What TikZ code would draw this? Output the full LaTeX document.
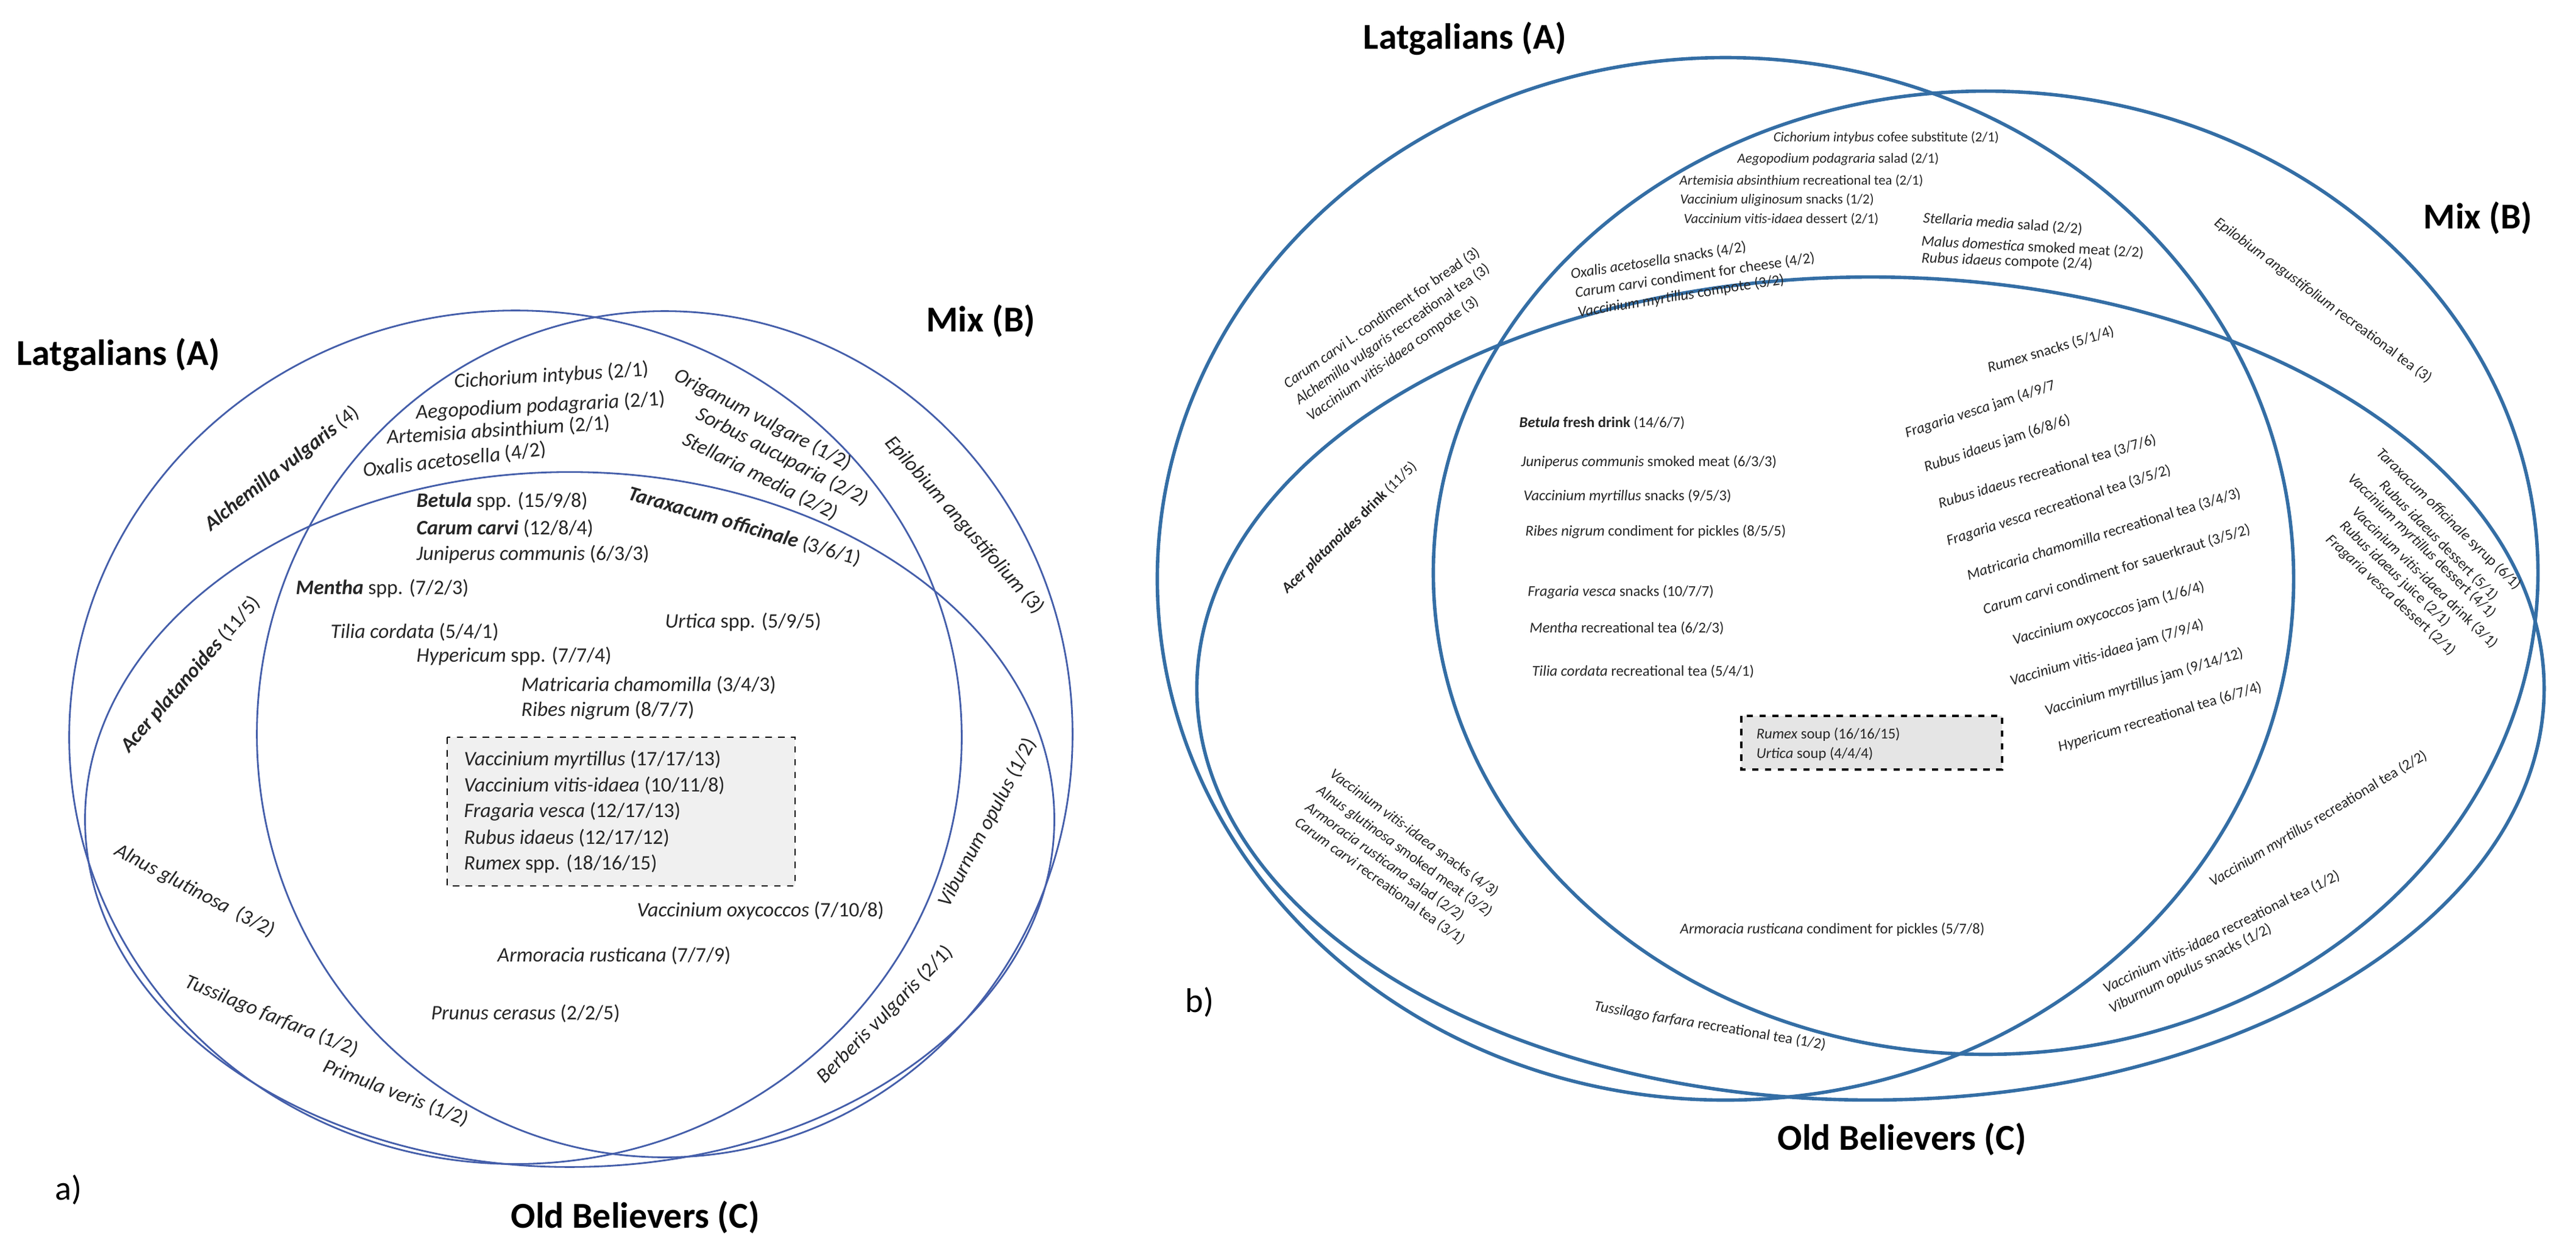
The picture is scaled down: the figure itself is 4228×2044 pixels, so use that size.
\documentclass[tikz,border=0pt]{standalone}
\usepackage{fontspec}
\setmainfont{Carlito}
\definecolor{lineA}{RGB}{68,94,170}
\definecolor{lineB}{RGB}{52,110,165}
\begin{document}
\begin{tikzpicture}[x=0.01cm,y=-0.01cm,
  ta/.style={inner sep=0pt,font=\fontsize{9.6}{11}\selectfont,text=black!85},
  tb/.style={inner sep=0pt,font=\fontsize{7}{8}\selectfont,text=black!85},
  tc/.style={inner sep=0pt,font=\fontsize{6.5}{7.5}\selectfont,text=black!85},
  ttl/.style={inner sep=0pt,font=\fontsize{17}{20}\selectfont\bfseries},
  ea/.style={draw=lineA,line width=0.8pt},
  eb/.style={draw=lineB,line width=1.6pt}]
\useasboundingbox (0,0) rectangle (4228,2044);
\fill[white] (0,0) rectangle (4228,2044);
% ---------------- panel a ----------------
\draw[ea] (846,1210) ellipse [x radius=7.32cm, y radius=7.0cm];
\draw[ea] (1091,1205) ellipse [x radius=6.69cm, y radius=6.94cm];
\draw[ea] (935,1345) ellipse [x radius=7.95cm, y radius=5.70cm];
\node[ttl,anchor=west] (aA) at (27,582) {Latgalians (A)};
\node[ttl,anchor=west] (aB) at (1520,527) {Mix (B)};
\node[ttl,anchor=west] (aC) at (838,1998) {Old Believers (C)};
\node[ttl,anchor=west,font=\fontsize{16}{18}\selectfont\mdseries] (alab) at (90,1953) {a)};
\node[ta,rotate=3.7] (a1) at (905,617) {\textit{Cichorium intybus} (2/1)};
\node[ta,rotate=3.1] (a2) at (887,667) {\textit{Aegopodium podagraria} (2/1)};
\node[ta,rotate=3.7] (a3) at (818,707) {\textit{Artemisia absinthium} (2/1)};
\node[ta,rotate=6.7] (a4) at (746,755) {\textit{Oxalis acetosella} (4/2)};
\node[ta,rotate=37.9] (a5) at (463,769) {\textbf{\textit{Alchemilla vulgaris}} (4)};
\node[ta,rotate=48.8] (a6) at (313,1107) {\textbf{\textit{Acer platanoides}} (11/5)};
\node[ta,anchor=west] (a7) at (683,823) {\textbf{\textit{Betula}} spp. (15/9/8)};
\node[ta,anchor=west] (a8) at (683,867) {\textbf{\textit{Carum carvi}} (12/8/4)};
\node[ta,anchor=west] (a9) at (683,910) {\textit{Juniperus communis} (6/3/3)};
\node[ta,anchor=west] (a10) at (485,966) {\textbf{\textit{Mentha}} spp. (7/2/3)};
\node[ta,anchor=west] (a11) at (542,1037) {\textit{Tilia cordata} (5/4/1)};
\node[ta,anchor=west] (a12) at (683,1077) {\textit{Hypericum} spp. (7/7/4)};
\node[ta,anchor=west] (a13) at (855,1124) {\textit{Matricaria chamomilla} (3/4/3)};
\node[ta,anchor=west] (a14) at (855,1166) {\textit{Ribes nigrum} (8/7/7)};
\node[ta,anchor=west] (a15) at (1091,1021) {\textit{Urtica} spp. (5/9/5)};
\node[ta,rotate=-27.5] (a16) at (1252,689) {\textit{Origanum vulgare} (1/2)};
\node[ta,rotate=-27.4] (a17) at (1284,750) {\textit{Sorbus aucuparia} (2/2)};
\node[ta,rotate=-26.6] (a18) at (1248,782) {\textit{Stellaria media} (2/2)};
\node[ta,rotate=-16] (a19) at (1222,864) {\textbf{\textit{Taraxacum officinale}} (3/6/1)};
\node[ta,rotate=-48.6] (a20) at (1583,862) {\textit{Epilobium angustifolium} (3)};
\node[ta,rotate=62] (a21) at (1621,1350) {\textit{Viburnum opulus} (1/2)};
\node[ta,rotate=45.3] (a22) at (1453,1665) {\textit{Berberis vulgaris} (2/1)};
\node[ta,anchor=west] (a23) at (1045,1495) {\textit{Vaccinium oxycoccos} (7/10/8)};
\node[ta,anchor=west] (a24) at (816,1568) {\textit{Armoracia rusticana} (7/7/9)};
\node[ta,anchor=west] (a25) at (707,1663) {\textit{Prunus cerasus} (2/2/5)};
\node[ta,rotate=-27.8] (a26) at (320,1462) {\textit{Alnus glutinosa}\ \ (3/2)};
\node[ta,rotate=-22.2] (a27) at (446,1668) {\textit{Tussilago farfara} (1/2)};
\node[ta,rotate=-21] (a28) at (650,1794) {\textit{Primula veris} (1/2)};
\draw[dashed,line width=0.7pt,fill=black!6] (734,1210) rectangle (1305,1454);
\node[ta,anchor=west] (ab1) at (761,1247) {\textit{Vaccinium myrtillus} (17/17/13)};
\node[ta,anchor=west] (ab2) at (761,1289) {\textit{Vaccinium vitis-idaea} (10/11/8)};
\node[ta,anchor=west] (ab3) at (761,1332) {\textit{Fragaria vesca} (12/17/13)};
\node[ta,anchor=west] (ab4) at (761,1375) {\textit{Rubus idaeus} (12/17/12)};
\node[ta,anchor=west] (ab5) at (761,1418) {\textit{Rumex} spp. (18/16/15)};
% ---------------- panel b ----------------
\draw[eb] (2832,950) ellipse [x radius=9.32cm, y radius=8.55cm];
\draw[eb] (3259,940) ellipse [x radius=9.06cm, y radius=7.90cm];
\draw[eb] (3070,1130) ellipse [x radius=11.05cm, y radius=6.75cm];
\node[ttl,anchor=west] (bA) at (2237,63) {Latgalians (A)};
\node[ttl,anchor=west] (bB) at (3977,358) {Mix (B)};
\node[ttl,anchor=west] (bC) at (2917,1870) {Old Believers (C)};
\node[ttl,anchor=west,font=\fontsize{16}{18}\selectfont\mdseries] (blab) at (1945,1645) {b)};
\node[tc,anchor=west] (b1) at (2910,226) {\textit{Cichorium intybus} cofee substitute (2/1)};
\node[tc,anchor=west] (b2) at (2851,261) {\textit{Aegopodium podagraria} salad (2/1)};
\node[tc,anchor=west] (b3) at (2756,297) {\textit{Artemisia absinthium} recreational tea (2/1)};
\node[tc,anchor=west] (b4) at (2757,328) {\textit{Vaccinium uliginosum} snacks (1/2)};
\node[tc,anchor=west] (b5) at (2763,360) {\textit{Vaccinium vitis-idaea} dessert (2/1)};
\node[tb,anchor=west,rotate=-4] (b6) at (3156,358) {\textit{Stellaria media} salad (2/2)};
\node[tb,anchor=west,rotate=-3] (b7) at (3153,396) {\textit{Malus domestica} smoked meat (2/2)};
\node[tb,anchor=west,rotate=-2] (b8) at (3153,424) {\textit{Rubus idaeus} compote (2/4)};
\node[tb,rotate=8.9] (b9) at (2722,428) {\textit{Oxalis acetosella} snacks (4/2)};
\node[tb,rotate=8.4] (b10) at (2782,452) {\textit{Carum carvi} condiment for cheese (4/2)};
\node[tb,rotate=9.1] (b11) at (2759,486) {\textit{Vaccinium myrtillus} compote (3/2)};
\node[tb,rotate=34.8] (b12) at (2268,522) {\textit{Carum carvi} L. condiment for bread (3)};
\node[tb,rotate=35] (b13) at (2286,549) {\textit{Alchemilla vulgaris} recreational tea (3)};
\node[tb,rotate=35] (b14) at (2286,589) {\textit{Vaccinium vitis-idaea} compote (3)};
\node[tb,rotate=44.3] (b15) at (2215,866) {\textbf{\textit{Acer platanoides} drink} (11/5)};
\node[tb,anchor=west] (b16) at (2493,694) {\textbf{\textit{Betula} fresh drink} (14/6/7)};
\node[tb,anchor=west] (b17) at (2496,758) {\textit{Juniperus communis} smoked meat (6/3/3)};
\node[tb,anchor=west] (b18) at (2500,814) {\textit{Vaccinium myrtillus} snacks (9/5/3)};
\node[tb,anchor=west] (b19) at (2503,873) {\textit{Ribes nigrum} condiment for pickles (8/5/5)};
\node[tb,anchor=west] (b20) at (2507,972) {\textit{Fragaria vesca} snacks (10/7/7)};
\node[tb,anchor=west] (b21) at (2510,1031) {\textit{Mentha} recreational tea (6/2/3)};
\node[tb,anchor=west] (b22) at (2514,1102) {\textit{Tilia cordata} recreational tea (5/4/1)};
\draw[dashed,line width=1pt,fill=black!10] (2858,1175) rectangle (3286,1263);
\node[tb,anchor=west] (bb1) at (2882,1205) {\textit{Rumex} soup (16/16/15)};
\node[tb,anchor=west] (bb2) at (2882,1237) {\textit{Urtica} soup (4/4/4)};
\node[tb,anchor=west] (b23) at (2757,1525) {\textit{Armoracia rusticana} condiment for pickles (5/7/8)};
\node[tb,anchor=west,rotate=-9.5] (b24) at (2616,1652) {\textit{Tussilago farfara} recreational tea (1/2)};
\node[tb,rotate=-36.2] (b25) at (2321,1367) {\textit{Vaccinium vitis-idaea} snacks (4/3)};
\node[tb,rotate=-35.8] (b26) at (2305,1397) {\textit{Alnus glutinosa} smoked meat (3/2)};
\node[tb,rotate=-35.6] (b27) at (2273,1414) {\textit{Armoracia rusticana} salad (2/2)};
\node[tb,rotate=-35.7] (b28) at (2265,1446) {\textit{Carum carvi} recreational tea (3/1)};
\node[tb,rotate=16.6] (b29) at (3366,574) {\textit{Rumex} snacks (5/1/4)};
\node[tb,rotate=18] (b30) at (3250,672) {\textit{Fragaria vesca} jam (4/9/7};
\node[tb,rotate=18.5] (b31) at (3278,728) {\textit{Rubus idaeus} jam (6/8/6)};
\node[tb,rotate=16.6] (b32) at (3360,774) {\textit{Rubus idaeus} recreational tea (3/7/6)};
\node[tb,rotate=17.8] (b33) at (3379,830) {\textit{Fragaria vesca} recreational tea (3/5/2)};
\node[tb,rotate=16.9] (b34) at (3453,877) {\textit{Matricaria chamomilla} recreational tea (3/4/3)};
\node[tb,rotate=16.9] (b35) at (3474,935) {\textit{Carum carvi} condiment for sauerkraut (3/5/2)};
\node[tb,rotate=15.9] (b36) at (3461,1007) {\textit{Vaccinium oxycoccos} jam (1/6/4)};
\node[tb,rotate=16.5] (b37) at (3458,1072) {\textit{Vaccinium vitis-idaea} jam (7/9/4)};
\node[tb,rotate=16.5] (b38) at (3519,1120) {\textit{Vaccinium myrtillus} jam (9/14/12)};
\node[tb,rotate=16.6] (b39) at (3545,1177) {\textit{Hypericum} recreational tea (6/7/4)};
\node[tb,rotate=-36.5] (b40) at (3813,493) {\textit{Epilobium angustifolium} recreational tea (3)};
\node[tb,rotate=-44.2] (b41) at (4019,852) {\textit{Taraxacum officinale} syrup (6/1)};
\node[tb,rotate=-45.3] (b42) at (4003,887) {\textit{Rubus idaeus} dessert (5/1)};
\node[tb,rotate=-44.2] (b43) at (3975,896) {\textit{Vaccinium myrtillus} dessert (4/1)};
\node[tb,rotate=-43.9] (b44) at (3980,948) {\textit{Vaccinium vitis-idaea} drink (3/1)};
\node[tb,rotate=-43.5] (b45) at (3931,942) {\textit{Rubus idaeus} juice (2/1)};
\node[tb,rotate=-42.7] (b46) at (3924,977) {\textit{Fragaria vesca} dessert (2/1)};
\node[tb,rotate=31] (b47) at (3805,1344) {\textit{Vaccinium myrtillus} recreational tea (2/2)};
\node[tb,rotate=26] (b48) at (3646,1530) {\textit{Vaccinium vitis-idaea} recreational tea (1/2)};
\node[tb,rotate=27] (b49) at (3595,1590) {\textit{Viburnum opulus} snacks (1/2)};
\end{tikzpicture}
\end{document}
